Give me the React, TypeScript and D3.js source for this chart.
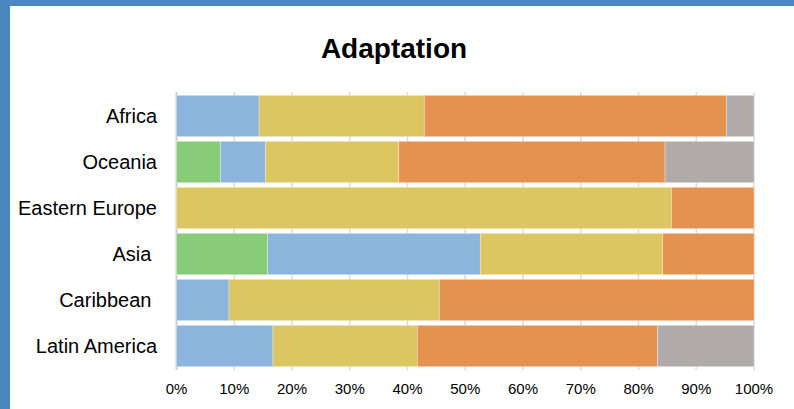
import * as d3 from "d3";

const categories = ["Africa", "Oceania", "Eastern Europe", "Asia ", "Caribbean ", "Latin America"];
const seriesKeys = ["green", "blue", "yellow", "orange", "gray"];
const seriesColors = ["#88cb78", "#8bb5dc", "#dbc661", "#e3924f", "#b0abaa"];

// shares in percent
const green = [0, 7.6, 0, 15.8, 0, 0];
const blue = [14.3, 7.8, 0, 36.8, 9.1, 16.7];
const yellow = [28.6, 23.1, 85.7, 31.6, 36.4, 25.0];
const orange = [52.3, 46.1, 14.3, 15.8, 54.5, 41.6];
const gray = [4.8, 15.4, 0, 0, 0, 16.7];

const tickValues = [0, 10, 20, 30, 40, 50, 60, 70, 80, 90, 100];

const W = 794;
const H = 409;
const font = "'Liberation Sans', Arial, sans-serif";

export default function App() {
  const rows = categories.map((c, i) => ({
    cat: c,
    green: green[i],
    blue: blue[i],
    yellow: yellow[i],
    orange: orange[i],
    gray: gray[i],
  }));
  const stack = d3.stack<any>().keys(seriesKeys)(rows);

  const x = d3.scaleLinear().domain([0, 100]).range([176.5, 754]);
  const y = d3.scaleBand().domain(categories).range([93, 369]).paddingInner(0.1).paddingOuter(0.05);

  return (
    <svg width={W} height={H} style={{ position: "absolute", left: 0, top: 0 }}>
      <rect x={0} y={0} width={W} height={H} fill="#4a86c0" />
      <rect x={10} y={6} width={W - 10} height={H - 6} fill="#ffffff" />
      <text x={394} y={58} textAnchor="middle" fontFamily={font} fontSize={28} fontWeight="bold" fill="#000">
        Adaptation
      </text>
      {tickValues.map((t) => (
        <g key={t}>
          <line x1={x(t)} x2={x(t)} y1={92} y2={370} stroke={t === 0 ? "#cfcfcf" : "#dadada"} strokeWidth={t === 0 ? 2 : 1.5} />
          <text x={x(t)} y={394} textAnchor="middle" fontFamily={font} fontSize={15} fill="#000">
            {t}%
          </text>
        </g>
      ))}
      {stack.map((s, si) => (
        <g key={s.key} fill={seriesColors[si]}>
          {s.map((d, i) =>
            d[1] - d[0] > 0 ? (
              <rect
                key={i}
                x={x(d[0])}
                y={y(categories[i])!}
                width={x(d[1]) - x(d[0])}
                height={y.bandwidth()}
                stroke="#ffffff"
                strokeOpacity={0.5}
                strokeWidth={0.6}
              />
            ) : null
          )}
        </g>
      ))}
      {categories.map((c) => (
        <text
          key={c}
          x={157}
          y={y(c)! + y.bandwidth() / 2}
          dy="0.35em"
          textAnchor="end"
          fontFamily={font}
          fontSize={20}
          fill="#000"
          style={{ whiteSpace: "pre" }}
          xmlSpace="preserve"
        >
          {c}
        </text>
      ))}
    </svg>
  );
}
